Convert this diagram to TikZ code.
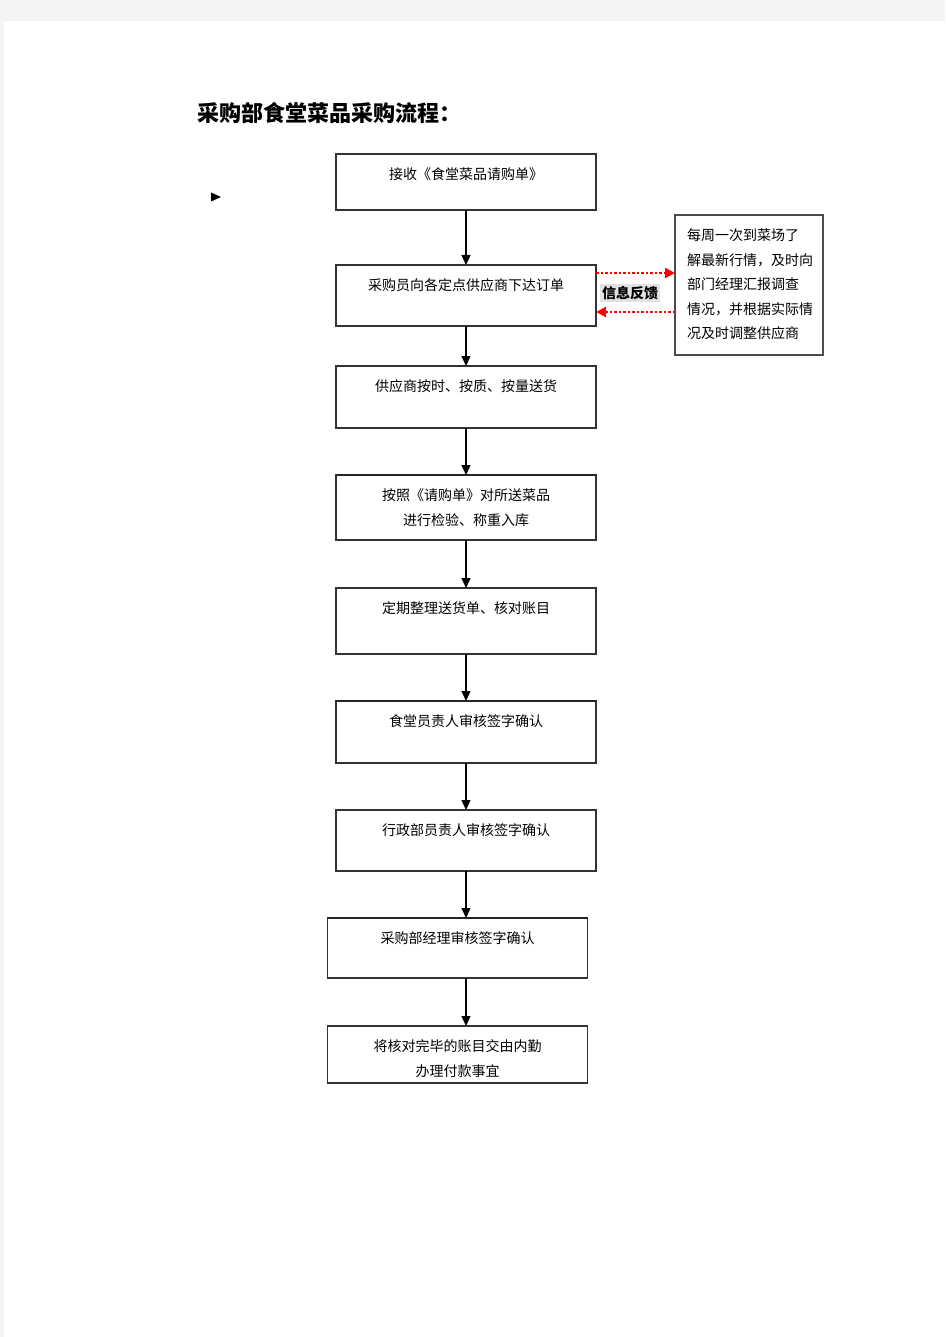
\documentclass[tikz,border=0pt]{standalone}
\usepackage{fontspec}
\newfontfamily\cjk{Noto Sans CJK SC}
\usetikzlibrary{arrows.meta, positioning, calc}
\definecolor{pagegray}{HTML}{F4F4F4}
\definecolor{tagbg}{HTML}{E2E2E2}
\tikzset{
    stepbox/.style={draw=black!80, line width=1.4pt, rectangle, inner sep=0pt, outer sep=0pt, anchor=north, minimum width=260pt},
    notebox/.style={draw=black!70, line width=1.2pt, rectangle, inner sep=0pt, outer sep=0pt, anchor=north west, minimum width=148pt},
    tag/.style={fill=tagbg, inner sep=2pt, font=\cjk\fontsize{14}{14}\selectfont\bfseries},
    line/.style={draw=black, line width=1.4pt, -{Triangle[length=10pt, width=9pt]}},
    fbline/.style={draw=red, line width=2.4pt, dash pattern=on 2.5pt off 2pt, -{Triangle[length=10pt, width=10pt]}}
}
\newcommand{\boxtext}[2]{\parbox[c][#1][t]{250pt}{\centering\vspace*{14pt}#2}}

\begin{document}
\begin{tikzpicture}[x=1pt, y=-1pt, font=\cjk\fontsize{14}{24.5}\selectfont]
    \useasboundingbox (0,0) rectangle (945,1337);
    \fill[pagegray] (0,0) rectangle (945,1337);
    \fill[white] (4,21) rectangle (945,1337);

    \node [anchor=west, font=\cjk\fontsize{22}{22}\selectfont\bfseries] (title) at (194,113) {采购部食堂菜品采购流程：};
    \fill (211,192.5) -- (221,197) -- (211,201.5) -- cycle;

    \node [stepbox] (b1) at (466,154) {\boxtext{56pt}{接收《食堂菜品请购单》}};
    \node [stepbox, below=55pt of b1] (b2) {\boxtext{61pt}{采购员向各定点供应商下达订单}};
    \node [stepbox, below=40pt of b2] (b3) {\boxtext{62pt}{供应商按时、按质、按量送货}};
    \node [stepbox, below=47pt of b3] (b4) {\boxtext{65pt}{按照《请购单》对所送菜品\\进行检验、称重入库}};
    \node [stepbox, below=48pt of b4] (b5) {\boxtext{66pt}{定期整理送货单、核对账目}};
    \node [stepbox, below=47pt of b5] (b6) {\boxtext{62pt}{食堂员责人审核签字确认}};
    \node [stepbox, below=47pt of b6] (b7) {\boxtext{61pt}{行政部员责人审核签字确认}};
    \node [stepbox, below=47pt of b7, xshift=-8.5pt] (b8) {\boxtext{60pt}{采购部经理审核签字确认}};
    \node [stepbox, below=48pt of b8] (b9) {\boxtext{57pt}{将核对完毕的账目交由内勤\\办理付款事宜}};
    \foreach \n in {b4, b6, b8}
        \draw [line width=2.6pt, black!85] (\n.north west) -- (\n.north east);

    \node [notebox] (note) at (675,215) {\parbox[c][140pt][t]{124pt}{\raggedright\vspace*{14pt}每周一次到菜场了\\解最新行情，及时向\\部门经理汇报调查\\情况，并根据实际情\\况及时调整供应商}};
    \node [tag] (fb) at (630,293) {信息反馈};

    \foreach \a/\b in {b1/b2, b2/b3, b3/b4, b4/b5, b5/b6, b6/b7}
        \draw [line] (\a) -- (\b);
    \draw [line] (b7.south) -- (b7.south |- b8.north);
    \draw [line] ([xshift=8.5pt]b8.south) -- ([xshift=8.5pt]b9.north);

    \coordinate (fbtop) at ([yshift=-8pt]b2.north east);
    \coordinate (fbbot) at ([yshift=14pt]b2.south east);
    \draw [fbline] (fbtop) -- (fbtop -| note.west);
    \draw [fbline] (fbbot -| note.west) -- (fbbot);
\end{tikzpicture}
\end{document}
